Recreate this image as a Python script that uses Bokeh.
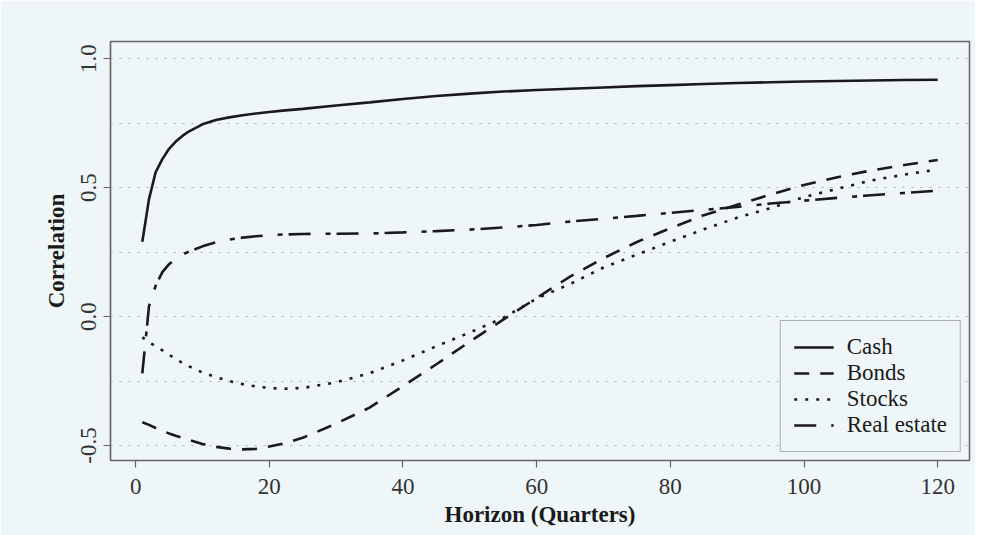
from bokeh.plotting import figure
from bokeh.models import Range1d, FixedTicker
from bokeh.embed import file_html
from bokeh.resources import INLINE

horizon = [1, 2, 3, 4, 5, 6, 7, 8, 10, 12, 14, 16, 18, 20, 22, 25,
           30, 35, 40, 45, 50, 55, 60, 65, 70, 75, 80, 85, 90, 95, 100, 105, 110, 115, 120]
cash = [0.29, 0.455, 0.56, 0.61, 0.65, 0.678, 0.70, 0.718, 0.745, 0.762, 0.772, 0.78, 0.787, 0.793, 0.798, 0.805,
        0.818, 0.83, 0.843, 0.855, 0.864, 0.872, 0.878, 0.883, 0.888, 0.893, 0.897, 0.901, 0.905, 0.908, 0.911, 0.913, 0.915, 0.917, 0.918]
bonds = [-0.41, -0.42, -0.432, -0.443, -0.453, -0.462, -0.47, -0.478, -0.494, -0.505, -0.512, -0.515, -0.513, -0.504, -0.493, -0.47,
         -0.415, -0.353, -0.27, -0.185, -0.097, -0.012, 0.072, 0.155, 0.226, 0.289, 0.342, 0.393, 0.433, 0.473, 0.51, 0.54, 0.566, 0.587, 0.607]
stocks = [-0.08, -0.10, -0.115, -0.131, -0.148, -0.164, -0.18, -0.193, -0.217, -0.235, -0.25, -0.262, -0.271, -0.277, -0.28, -0.277,
          -0.255, -0.22, -0.17, -0.115, -0.062, -0.005, 0.07, 0.126, 0.19, 0.24, 0.29, 0.338, 0.383, 0.42, 0.463, 0.495, 0.527, 0.55, 0.57]
real_estate = [-0.22, 0.04, 0.12, 0.172, 0.203, 0.225, 0.24, 0.252, 0.272, 0.288, 0.298, 0.306, 0.311, 0.315, 0.318, 0.32,
               0.321, 0.322, 0.326, 0.331, 0.337, 0.345, 0.355, 0.368, 0.379, 0.39, 0.402, 0.413, 0.425, 0.438, 0.449, 0.46, 0.47, 0.479, 0.488]

x_ticks = [0, 20, 40, 60, 80, 100, 120]
y_ticks = [-0.5, 0.0, 0.5, 1.0]
y_tick_labels = ["-0.5", "0.0", "0.5", "1.0"]
grid_levels = [-0.5, -0.25, 0.0, 0.25, 0.5, 0.75, 1.0]

series_names = ["Cash", "Bonds", "Stocks", "Real estate"]
series_values = [cash, bonds, stocks, real_estate]
series_dash = ["solid", "15 11", "3 8", "22 15 5 6"]

FONT = "Liberation Serif"
BG = "#eff6f8"
INK = "#1a1a1a"
FRAME = "#666666"

p = figure(width=975, height=535, output_backend="svg", toolbar_location=None,
           x_range=Range1d(-3.76, 124.76), y_range=Range1d(-0.558, 1.066),
           min_border_left=110, min_border_right=6, min_border_top=41, min_border_bottom=75,
           background_fill_color=BG, border_fill_color=BG)

p.outline_line_color = FRAME
p.outline_line_width = 1.5

for name, vals, dash in zip(series_names, series_values, series_dash):
    p.line(horizon, vals, line_color=INK, line_width=2.6, line_dash=dash, legend_label=name)

# grid
p.xgrid.visible = False
p.ygrid.ticker = FixedTicker(ticks=grid_levels)
p.ygrid.grid_line_color = "#a9b0b4"
p.ygrid.grid_line_dash = "2 7"
p.ygrid.grid_line_width = 1

# axes
for ax in (p.xaxis[0], p.yaxis[0]):
    ax.axis_line_color = FRAME
    ax.axis_line_width = 1.2
    ax.major_tick_line_color = FRAME
    ax.major_tick_line_width = 1.2
    ax.major_tick_out = 7
    ax.major_tick_in = 0
    ax.minor_tick_line_color = None
    ax.major_label_text_font = FONT
    ax.major_label_text_font_size = "23px"
    ax.major_label_text_color = "#333333"
    ax.axis_label_text_font = FONT
    ax.axis_label_text_font_size = "23px"
    ax.axis_label_text_font_style = "bold"
    ax.axis_label_text_color = INK

p.xaxis.ticker = FixedTicker(ticks=x_ticks)
p.xaxis.axis_label = "Horizon (Quarters)"
p.xaxis.major_label_standoff = 11
p.xaxis.axis_label_standoff = 5

p.yaxis.ticker = FixedTicker(ticks=y_ticks)
p.yaxis.major_label_overrides = {t: l for t, l in zip(y_ticks, y_tick_labels)}
p.yaxis.major_label_orientation = "vertical"
p.yaxis.axis_label = "Correlation"
p.yaxis.major_label_standoff = 7
p.yaxis.axis_label_standoff = 10

# legend
lg = p.legend[0]
lg.location = "bottom_right"
lg.margin = 8
lg.padding = 13
lg.spacing = 0
lg.label_height = 26
lg.glyph_height = 26
lg.glyph_width = 40
lg.label_standoff = 13
lg.label_text_font = FONT
lg.label_text_font_size = "23px"
lg.label_text_color = INK
lg.border_line_color = FRAME
lg.border_line_width = 1.5
lg.background_fill_color = BG
lg.background_fill_alpha = 1.0

open("out.html", "w").write(file_html(p, INLINE))
